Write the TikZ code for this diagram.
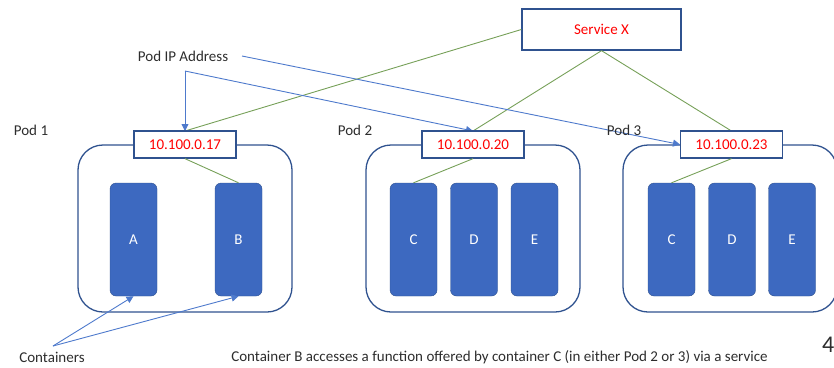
\documentclass[tikz,border=0pt]{standalone}
\usepackage{fontspec}
\setmainfont{Carlito}
\usetikzlibrary{arrows.meta,positioning}

\definecolor{podedge}{RGB}{47,82,143}
\definecolor{contfill}{RGB}{61,105,192}
\definecolor{linkgreen}{RGB}{118,160,88}
\definecolor{pointblue}{RGB}{78,122,204}
\definecolor{labelgray}{RGB}{45,45,45}

\begin{document}
\begin{tikzpicture}[
				x=1pt, y=-1pt,
				font=\fontsize{15pt}{18pt}\selectfont,
				% boxes
				podbox/.style={draw=podedge, line width=1.3pt, rounded corners=25pt, minimum width=214pt, minimum height=167pt},
				ipbox/.style={draw=podedge, line width=1.3pt, fill=white, text=red, minimum width=102pt, minimum height=27pt, inner sep=0pt},
				contbox/.style={draw=podedge, fill=contfill, rounded corners=6pt, text=white, minimum width=47pt, minimum height=113pt},
				caption/.style={text=labelgray, inner sep=1pt},
				% connectors
				link/.style={draw=linkgreen, line width=0.9pt},
				pointer/.style={draw=pointblue, line width=0.9pt, -{Triangle[length=7pt,width=7pt]}}
				]
				\useasboundingbox (0,0) rectangle (834,367);
				\pgfmathsetmacro{\PodRow}{228.5}
				\pgfmathsetmacro{\IpRow}{144.5}
				\pgfmathsetmacro{\ContRow}{239.5}
				% pods
				\node[podbox] (Pod1) at (185,\PodRow) {};
				\node[podbox] (Pod2) at (473,\PodRow) {};
				\node[podbox] (Pod3) at (730,\PodRow) {};
				\node[caption] (Pod1Label) at (31,130) {Pod 1};
				\node[caption] (Pod2Label) at (355,130) {Pod 2};
				% containers
				\node[contbox] (ContA) at (133.5,\ContRow) {A};
				\node[contbox] (ContB) at (238.5,\ContRow) {B};
				\node[contbox] (ContC2) at (413.5,\ContRow) {C};
				\node[contbox] (ContD2) at (474,\ContRow) {D};
				\node[contbox] (ContE2) at (534.5,\ContRow) {E};
				\node[contbox] (ContC3) at (671.5,\ContRow) {C};
				\node[contbox] (ContD3) at (732,\ContRow) {D};
				\node[contbox] (ContE3) at (792,\ContRow) {E};
				% service
				\node[ipbox, minimum width=159pt, minimum height=41pt] (ServiceX) at (601.5,29.5) {Service X};
				\draw[link] (ServiceX.west) -- (185,131);
				\draw[link] (ServiceX.south) -- (473,131);
				\draw[link] (ServiceX.south) -- (731.5,131);
				% pod IP addresses
				\node[caption] (PodIP) at (183,56) {Pod IP Address};
				\coordinate (IpFork) at (185,71);
				\coordinate (IpTail) at (242,56);
				\draw[pointer] (IpFork) -- (185,131);
				\draw[pointer] (IpFork) -- (473,131);
				\draw[pointer] (IpTail) -- (680,144.5);
				\node[caption] (Pod3Label) at (624,130) {Pod 3};
				\node[ipbox] (Ip1) at (185,\IpRow) {10.100.0.17};
				\node[ipbox] (Ip2) at (473,\IpRow) {10.100.0.20};
				\node[ipbox] (Ip3) at (731.5,\IpRow) {10.100.0.23};
				\draw[link] (Ip1.south) -- (ContB.north);
				\draw[link] (Ip2.south) -- (ContC2.north);
				\draw[link] (Ip3.south) -- (ContC3.north);
				% containers note
				\node[caption] (ContLabel) at (52,357.5) {Containers};
				\coordinate (ContFork) at (53,346);
				\draw[pointer] (ContFork) -- (ContA.south);
				\draw[pointer] (ContFork) -- (ContB.south);
				\node[caption] (Summary) at (499.5,357.5) {Container B accesses a function offered by container C (in either Pod 2 or 3) via a service};
				\node[caption, anchor=west, font=\fontsize{24pt}{28pt}\selectfont] (PageNo) at (821,345) {4};
			\end{tikzpicture}
\end{document}
